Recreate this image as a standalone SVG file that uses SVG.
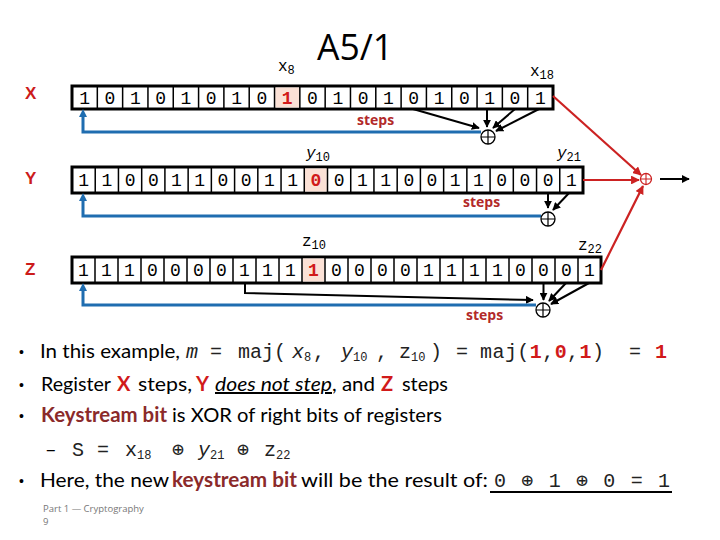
<svg xmlns="http://www.w3.org/2000/svg" width="720" height="540" viewBox="0 0 720 540">
<style>
.bg{fill:#fff}
.reg{fill:#fff;stroke:#000;stroke-width:3}
.div{stroke:#000;stroke-width:1.5;fill:none}
.hl{fill:#fbe1d6}
.bits{font-family:"Liberation Mono",monospace;font-size:18px;fill:#000;text-anchor:middle}
.bitr{font-family:"Liberation Mono",monospace;font-size:18px;fill:#d11a1a;font-weight:bold;text-anchor:middle}
.lbl{font-family:"Liberation Sans",sans-serif;font-size:17px;font-weight:bold;fill:#cc1b1b}
.sub{font-family:"Liberation Mono",monospace;font-size:16px;fill:#000}
.steps{font-family:"Open Sans",sans-serif;font-size:14px;font-weight:bold;fill:#b22a2a}
.fb{stroke:#1f6db0;stroke-width:3;fill:none}
.tap{stroke:#000;stroke-width:2;fill:none}
.red{stroke:#cc2222;stroke-width:2.2;fill:none}
.xor{fill:#fff;stroke:#000;stroke-width:1.3}
.body{font-family:"Lato","Open Sans",sans-serif;font-size:20px;fill:#000}
.bul{font-family:"Liberation Sans",sans-serif;font-size:14px;fill:#000}
.mono{font-family:"Liberation Mono",monospace;font-size:20px;fill:#222}
.monoi{font-family:"Liberation Mono",monospace;font-size:20px;font-style:italic;fill:#222}
.sm{font-size:12px}
.rb{fill:#d11a1a;font-weight:bold}
.dk{fill:#8b2a2a;font-weight:bold}
</style>
<defs>
<marker id="ab" viewBox="0 0 10 10" refX="9" refY="5" markerWidth="4" markerHeight="4" orient="auto"><path d="M0,0 L10,5 L0,10 z" fill="#000"/></marker>
<marker id="ar" viewBox="0 0 10 10" refX="9" refY="5" markerWidth="4" markerHeight="4" orient="auto"><path d="M0,0 L10,5 L0,10 z" fill="#cc2222"/></marker>
</defs>
<rect class="bg" x="0" y="0" width="720" height="540"/>

<text x="317" y="60" font-family="'Open Sans',sans-serif" font-size="36" textLength="76" lengthAdjust="spacingAndGlyphs">A5/1</text>

<g id="regX">
<text class="lbl" x="25" y="99">X</text>
<rect class="reg" x="72" y="86" width="481" height="23"/>
<rect class="hl" x="275.3" y="87.5" width="23.8" height="20"/>
<path class="div" d="M97.32 86V109M122.63 86V109M147.95 86V109M173.26 86V109M198.58 86V109M223.89 86V109M249.21 86V109M274.53 86V109M299.84 86V109M325.16 86V109M350.47 86V109M375.79 86V109M401.11 86V109M426.42 86V109M451.74 86V109M477.05 86V109M502.37 86V109M527.68 86V109"/>
<text class="bits" x="84.66 109.97 135.29 160.61 185.92 211.24 236.55 261.87" y="104">10101010</text>
<text class="bitr" x="287.18" y="104">1</text>
<text class="bits" x="312.50 337.82 363.13 388.45 413.76 439.08 464.39 489.71 515.03 540.34" y="104">0101010101</text>
<text class="sub" x="278" y="71">x<tspan class="sm" dy="3">8</tspan></text>
<text class="sub" x="530" y="76">x<tspan class="sm" dy="3">18</tspan></text>
<text class="steps" x="357" y="125">steps</text>
</g>

<g id="regY">
<text class="lbl" x="25" y="184">Y</text>
<rect class="reg" x="72" y="167" width="511" height="26"/>
<rect class="hl" x="305" y="168.5" width="21.8" height="23"/>
<path class="div" d="M95.23 167V193M118.45 167V193M141.68 167V193M164.91 167V193M188.14 167V193M211.36 167V193M234.59 167V193M257.82 167V193M281.05 167V193M304.27 167V193M327.50 167V193M350.73 167V193M373.95 167V193M397.18 167V193M420.41 167V193M443.64 167V193M466.86 167V193M490.09 167V193M513.32 167V193M536.55 167V193M559.77 167V193"/>
<text class="bits" x="83.61 106.84 130.07 153.30 176.52 199.75 222.98 246.20 269.43 292.66" y="186">1100110011</text>
<text class="bitr" x="315.89" y="186">0</text>
<text class="bits" x="339.11 362.34 385.57 408.80 432.02 455.25 478.48 501.70 524.93 548.16 571.39" y="186">01100110001</text>
<text class="sub" x="306" y="158"><tspan font-style="italic">y</tspan><tspan class="sm" dy="3">10</tspan></text>
<text class="sub" x="557" y="158"><tspan font-style="italic">y</tspan><tspan class="sm" dy="3">21</tspan></text>
<text class="steps" x="463" y="207">steps</text>
</g>

<g id="regZ">
<text class="lbl" x="25" y="275">Z</text>
<rect class="reg" x="72" y="257" width="529" height="26"/>
<rect class="hl" x="302.8" y="258.5" width="21.5" height="23"/>
<path class="div" d="M95 257V283M118 257V283M141 257V283M164 257V283M187 257V283M210 257V283M233 257V283M256 257V283M279 257V283M302 257V283M325 257V283M348 257V283M371 257V283M394 257V283M417 257V283M440 257V283M463 257V283M486 257V283M509 257V283M532 257V283M555 257V283M578 257V283"/>
<text class="bits" x="83.5 106.5 129.5 152.5 175.5 198.5 221.5 244.5 267.5 290.5" y="276">1110000111</text>
<text class="bitr" x="313.5" y="276">1</text>
<text class="bits" x="336.5 359.5 382.5 405.5 428.5 451.5 474.5 497.5 520.5 543.5 566.5 589.5" y="276">000011110001</text>
<text class="sub" x="302" y="246">z<tspan class="sm" dy="3">10</tspan></text>
<text class="sub" x="578" y="250">z<tspan class="sm" dy="3">22</tspan></text>
<text class="steps" x="466" y="320">steps</text>
</g>

<g id="connectors">
<path class="tap" d="M413 109L479 128" marker-end="url(#ab)"/>
<path class="tap" d="M487 109V127" marker-end="url(#ab)"/>
<path class="tap" d="M515 109L493 128" marker-end="url(#ab)"/>
<path class="tap" d="M539 109L496 131" marker-end="url(#ab)"/>
<path class="fb" d="M481 132H83V113"/>
<path d="M83 109L79 117H87z" fill="#1f6db0"/>
<path class="tap" d="M548 193V208" marker-end="url(#ab)"/>
<path class="tap" d="M569 193L553 210" marker-end="url(#ab)"/>
<path class="fb" d="M541 216H83V197"/>
<path d="M83 193L79 201H87z" fill="#1f6db0"/>
<path class="tap" d="M245 283V293L533 300" marker-end="url(#ab)"/>
<path class="tap" d="M543.5 283V300" marker-end="url(#ab)"/>
<path class="tap" d="M566 283L549 301" marker-end="url(#ab)"/>
<path class="tap" d="M589 283L551 304" marker-end="url(#ab)"/>
<path class="fb" d="M536 305H83V287"/>
<path d="M83 283L79 291H87z" fill="#1f6db0"/>
<path class="red" d="M553 96L641 175" marker-end="url(#ar)"/>
<path class="red" d="M583 180H639" marker-end="url(#ar)"/>
<path class="red" d="M601 270L643 186" marker-end="url(#ar)"/>
<path class="tap" d="M660 179H689" marker-end="url(#ab)"/>
</g>

<g id="xors">
<g id="xorX"><circle class="xor" cx="488" cy="137" r="7"/><path d="M481 137H495M488 130V144" stroke="#000" stroke-width="1.2"/></g>
<g id="xorY"><circle class="xor" cx="548" cy="219" r="7"/><path d="M541 219H555M548 212V226" stroke="#000" stroke-width="1.2"/></g>
<g id="xorZ"><circle class="xor" cx="543" cy="310" r="7"/><path d="M536 310H550M543 303V317" stroke="#000" stroke-width="1.2"/></g>
<g id="xorOut"><circle cx="646" cy="179" r="5.5" fill="#fff" stroke="#cc2222" stroke-width="1.3"/><path d="M640.5 179H651.5M646 173.5V184.5" stroke="#cc2222" stroke-width="1.1"/></g>
</g>

<g id="text">
<text class="bul" x="19" y="357">•</text>
<text class="body" x="40" y="358" textLength="140" lengthAdjust="spacingAndGlyphs">In this example,</text>
<text class="monoi" x="186" y="358">m</text>
<text class="mono" x="210" y="358">=</text>
<text class="mono" x="238" y="358">maj(</text>
<text class="monoi" x="292" y="358">x<tspan class="sm" dy="3" font-style="normal">8</tspan></text>
<text class="mono" x="313" y="358">,</text>
<text class="monoi" x="341" y="358">y<tspan class="sm" dy="3" font-style="normal">10</tspan></text>
<text class="mono" x="376" y="358">,</text>
<text class="mono" x="399" y="358">z<tspan class="sm" dy="3">10</tspan></text>
<text class="mono" x="430" y="358">)</text>
<text class="mono" x="456" y="358">=</text>
<text class="mono" x="480" y="358" textLength="124" lengthAdjust="spacing">maj(<tspan class="rb">1</tspan>,<tspan class="rb">0</tspan>,<tspan class="rb">1</tspan>)</text>
<text class="mono" x="629" y="358">=</text>
<text class="mono rb" x="655" y="358">1</text>

<text class="bul" x="19" y="390">•</text>
<text class="body" x="41" y="391" textLength="70" lengthAdjust="spacingAndGlyphs">Register</text>
<text class="body rb" x="117" y="391">X</text>
<text class="body" x="138" y="391" textLength="54" lengthAdjust="spacingAndGlyphs">steps,</text>
<text class="body rb" x="196" y="391">Y</text>
<text class="body" x="215" y="391" font-style="italic" text-decoration="underline" textLength="117" lengthAdjust="spacingAndGlyphs">does not step</text>
<text class="body" x="332" y="391" textLength="43" lengthAdjust="spacingAndGlyphs">, and</text>
<text class="body rb" x="381" y="391">Z</text>
<text class="body" x="402" y="391" textLength="46" lengthAdjust="spacingAndGlyphs">steps</text>

<text class="bul" x="19" y="421" fill="#8b2a2a">•</text>
<text class="body dk" x="41" y="422" textLength="126" lengthAdjust="spacingAndGlyphs">Keystream bit</text>
<text class="body" x="172" y="422" textLength="270" lengthAdjust="spacingAndGlyphs">is XOR of right bits of registers</text>

<text class="body" x="45" y="456">–</text>
<text class="mono" x="72" y="456">S</text>
<text class="mono" x="97" y="456">=</text>
<text class="mono" x="125" y="456">x<tspan class="sm" dy="3">18</tspan></text>
<text class="mono" x="172" y="456">⊕</text>
<text class="monoi" x="198" y="456">y<tspan class="sm" dy="3" font-style="normal">21</tspan></text>
<text class="mono" x="237" y="456">⊕</text>
<text class="mono" x="264" y="456">z<tspan class="sm" dy="3">22</tspan></text>

<text class="bul" x="19" y="486">•</text>
<text class="body" x="40" y="487" textLength="129" lengthAdjust="spacingAndGlyphs">Here, the new</text>
<text class="body dk" x="172" y="487" textLength="125" lengthAdjust="spacingAndGlyphs">keystream bit</text>
<text class="body" x="301" y="487" textLength="187" lengthAdjust="spacingAndGlyphs">will be the result of:</text>
<text class="mono" x="494" y="487" textLength="176" lengthAdjust="spacing">0 ⊕ 1 ⊕ 0 = 1</text>
<path d="M490 492H672" stroke="#000" stroke-width="2"/>

<text x="43" y="512" font-family="'Open Sans',sans-serif" font-size="9.5" fill="#777">Part 1 — Cryptography</text>
<text x="43" y="525" font-family="'Open Sans',sans-serif" font-size="9.5" fill="#777">9</text>
</g>
</svg>
